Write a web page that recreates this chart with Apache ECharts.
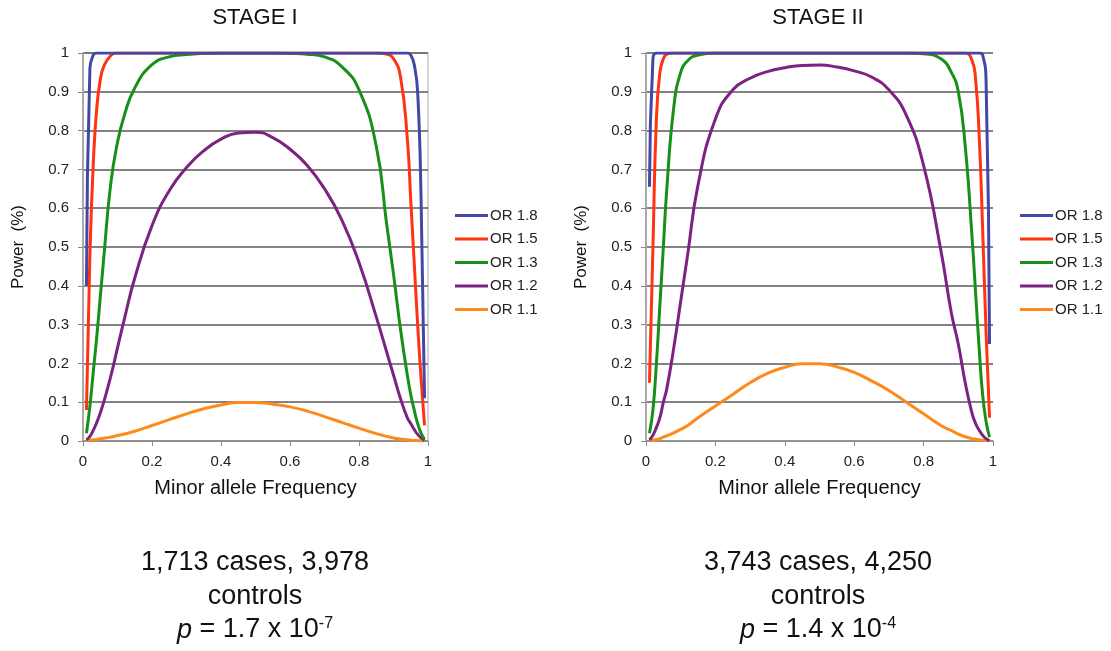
<!DOCTYPE html>
<html>
<head>
<meta charset="utf-8">
<script src="https://cdn.jsdelivr.net/npm/echarts@6/dist/echarts.min.js"></script>
<style>html,body{margin:0;padding:0;background:#fff;}#c{width:1111px;height:651px;}</style>
</head>
<body>
<div id="c"></div>
<script>
// Minor allele frequency sample points (x)
const maf = [0.01,0.02,0.03,0.04,0.05,0.06,0.08,0.10,0.12,0.15,0.20,0.25,0.30,0.35,0.40,0.45,0.50,0.55,0.60,0.65,0.70,0.75,0.80,0.85,0.88,0.90,0.92,0.94,0.95,0.96,0.97,0.98,0.99];
const seriesNames = ['OR 1.8','OR 1.5','OR 1.3','OR 1.2','OR 1.1'];

// STAGE I power values
const s1_or18 = [0.40,0.96,0.995,1,1,1,1,1,1,1,1,1,1,1,1,1,1,1,1,1,1,1,1,1,1,1,1,1,0.995,0.97,0.90,0.62,0.11];
const s1_or15 = [0.08,0.48,0.72,0.86,0.93,0.965,0.993,1,1,1,1,1,1,1,1,1,1,1,1,1,1,1,1,1,0.997,0.985,0.94,0.78,0.62,0.46,0.30,0.16,0.04];
const s1_or13 = [0.02,0.09,0.18,0.27,0.37,0.47,0.66,0.77,0.84,0.91,0.97,0.99,0.996,0.999,1,1,1,1,0.999,0.997,0.99,0.965,0.905,0.76,0.56,0.43,0.29,0.17,0.12,0.08,0.045,0.02,0.005];
const s1_or12 = [0.003,0.012,0.028,0.048,0.072,0.10,0.165,0.24,0.315,0.42,0.555,0.645,0.705,0.748,0.778,0.794,0.796,0.782,0.752,0.71,0.65,0.57,0.46,0.32,0.23,0.17,0.11,0.06,0.045,0.03,0.017,0.008,0.002];
const s1_or11 = [0.001,0.002,0.003,0.004,0.006,0.007,0.010,0.014,0.018,0.025,0.040,0.055,0.070,0.083,0.093,0.099,0.099,0.095,0.088,0.077,0.063,0.048,0.033,0.019,0.012,0.008,0.005,0.003,0.002,0.001,0.001,0,0];

// STAGE II power values
const s2_or18 = [0.655,0.985,1,1,1,1,1,1,1,1,1,1,1,1,1,1,1,1,1,1,1,1,1,1,1,1,1,1,1,1,0.995,0.93,0.25];
const s2_or15 = [0.15,0.50,0.83,0.95,0.985,0.997,1,1,1,1,1,1,1,1,1,1,1,1,1,1,1,1,1,1,1,1,1,0.98,0.93,0.79,0.55,0.28,0.06];
const s2_or13 = [0.02,0.08,0.20,0.35,0.50,0.65,0.86,0.95,0.98,0.995,1,1,1,1,1,1,1,1,1,1,1,1,0.998,0.985,0.95,0.90,0.76,0.52,0.38,0.24,0.12,0.05,0.01];
const s2_or12 = [0.003,0.015,0.035,0.06,0.10,0.135,0.24,0.36,0.48,0.66,0.83,0.905,0.935,0.952,0.962,0.968,0.969,0.964,0.954,0.938,0.905,0.84,0.71,0.49,0.33,0.25,0.15,0.07,0.045,0.028,0.015,0.006,0.001];
const s2_or11 = [0.001,0.002,0.004,0.006,0.010,0.013,0.021,0.030,0.040,0.060,0.090,0.120,0.150,0.174,0.190,0.199,0.199,0.191,0.177,0.155,0.130,0.100,0.070,0.040,0.027,0.018,0.011,0.006,0.005,0.003,0.002,0.001,0];

const colors = ['#4347A6','#FF3311','#169016','#7B2283','#FF8A1C'];
const stage1 = [s1_or18,s1_or15,s1_or13,s1_or12,s1_or11];
const stage2 = [s2_or18,s2_or15,s2_or13,s2_or12,s2_or11];

const FONT = 'Liberation Sans, Arial, Helvetica, sans-serif';

function mkSeries(arrs, idx) {
  return arrs.map((arr, k) => ({
    name: seriesNames[k],
    type: 'line',
    xAxisIndex: idx,
    yAxisIndex: idx,
    data: maf.map((x, i) => [x, arr[i]]),
    showSymbol: false,
    symbol: 'none',
    smooth: 0.5,
    color: colors[k],
    lineStyle: { width: 3, color: colors[k] },
    z: 10 - k,
    animation: false
  }));
}

function mkX(idx) {
  return {
    gridIndex: idx, type: 'value', min: 0, max: 1, interval: 0.2,
    axisLine: { show: true, lineStyle: { color: '#999', width: 1.5 } },
    axisTick: { show: true, length: 5, lineStyle: { color: '#888', width: 1 } },
    axisLabel: { fontSize: 15, color: '#222', margin: 13, fontFamily: FONT,
      formatter: v => String(+v.toFixed(1)) },
    splitLine: { show: false },
    name: 'Minor allele Frequency', nameLocation: 'middle', nameGap: 37,
    nameTextStyle: { fontSize: 20, color: '#111', fontFamily: FONT }
  };
}
function mkY(idx) {
  return {
    gridIndex: idx, type: 'value', min: 0, max: 1, interval: 0.1,
    axisLine: { show: true, lineStyle: { color: '#aaa', width: 2 } },
    axisTick: { show: true, length: 5, lineStyle: { color: '#888', width: 1 } },
    axisLabel: { fontSize: 15, color: '#222', margin: 14, fontFamily: FONT,
      formatter: v => String(+v.toFixed(1)) },
    splitLine: { show: true, lineStyle: { color: '#5a5a5a', width: 1.5 } },
    name: 'Power  (%)', nameLocation: 'middle', nameGap: 56, nameRotate: 90,
    nameTextStyle: { fontSize: 17, color: '#111', fontFamily: FONT }
  };
}
function mkLegend(left) {
  return {
    data: seriesNames, orient: 'vertical', left: left, top: 207, padding: 0,
    icon: 'rect', itemWidth: 33, itemHeight: 3, itemGap: 6.5,
    textStyle: { fontSize: 15, lineHeight: 17, color: '#222', fontFamily: FONT, padding: [0,0,0,-3] },
    selectedMode: false
  };
}

const FS = 27;
function bottomText(cx, l1, l3a, l3s) {
  return [
    { type: 'text', x: cx, y: 563, style: { text: l1, font: FS + 'px ' + FONT, fill: '#111', textAlign: 'center', textVerticalAlign: 'middle' } },
    { type: 'text', x: cx, y: 597, style: { text: 'controls', font: FS + 'px ' + FONT, fill: '#111', textAlign: 'center', textVerticalAlign: 'middle' } },
    { type: 'text', x: cx, y: 630, style: {
        text: '{i|p} = ' + l3a + '{s|' + l3s + '}', textAlign: 'center', textVerticalAlign: 'middle',
        fill: '#111', font: FS + 'px ' + FONT,
        rich: { i: { fontStyle: 'italic', fontSize: FS, fontFamily: FONT, fill: '#111' },
                s: { fontSize: 16, fontFamily: FONT, fill: '#111', verticalAlign: 'top', padding: [0,0,13,0] } } } }
  ];
}

const chart = echarts.init(document.getElementById('c'), null, { renderer: 'canvas' });
chart.setOption({
  animation: false,
  backgroundColor: '#fff',
  grid: [
    { left: 83, top: 53, width: 345, height: 388, show: true, borderColor: '#aaa', borderWidth: 1, backgroundColor: 'transparent' },
    { left: 646, top: 53, width: 347, height: 388 }
  ],
  xAxis: [mkX(0), mkX(1)],
  yAxis: [mkY(0), mkY(1)],
  legend: [mkLegend(455), mkLegend(1020)],
  series: mkSeries(stage1, 0).concat(mkSeries(stage2, 1)),
  graphic: [
    { type: 'text', x: 255, y: 18, style: { text: 'STAGE I', font: '22px ' + FONT, fill: '#111', textAlign: 'center', textVerticalAlign: 'middle' } },
    { type: 'text', x: 818, y: 18, style: { text: 'STAGE II', font: '22px ' + FONT, fill: '#111', textAlign: 'center', textVerticalAlign: 'middle' } }
  ].concat(bottomText(255, '1,713 cases, 3,978', '1.7 x 10', '-7'))
   .concat(bottomText(818, '3,743 cases, 4,250', '1.4 x 10', '-4'))
});
</script>
</body>
</html>
